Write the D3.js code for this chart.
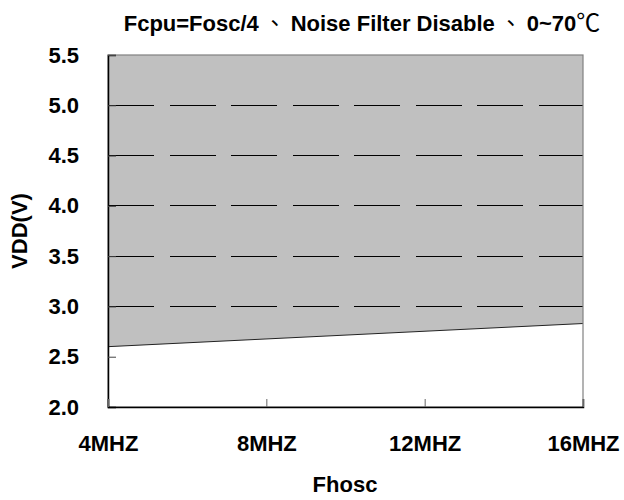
<!DOCTYPE html>
<html><head><meta charset="utf-8">
<script src="https://cdn.jsdelivr.net/npm/d3@7"></script>
<style>body{margin:0;background:#fff}</style>
</head><body>
<svg id="c" width="624" height="500"></svg>
<script>
const titleParts = ["Fcpu=Fosc/4", "、", "Noise Filter Disable", "、", "0~70", "℃"];
const xTicks = [4, 8, 12, 16];
const xLabels = ["4MHZ", "8MHZ", "12MHZ", "16MHZ"];
const yTicks = [2.0, 2.5, 3.0, 3.5, 4.0, 4.5, 5.0, 5.5];
const gridValues = [3.0, 3.5, 4.0, 4.5, 5.0];
const boundaryFreq = [4, 16];
const boundaryVdd = [2.6, 2.83];
const xName = "Fhosc";
const yName = "VDD(V)";

const svg = d3.select("#c");
const L = 108, R = 583, T = 55, B = 407;
const x = d3.scaleLinear().domain([4, 16]).range([L, R]);
const y = d3.scaleLinear().domain([2.0, 5.5]).range([B, T]);
const font = "'Liberation Sans', Arial, sans-serif";
const cjk = "'Noto Sans CJK TC', sans-serif";
const FS = 22;

const pts = boundaryFreq.map((f, i) => ({f, v: boundaryVdd[i]}));
const area = d3.area().x(d => x(d.f)).y0(y(5.5)).y1(d => y(d.v));
svg.append("path").datum(pts).attr("d", area).attr("fill", "#c0c0c0");

svg.append("defs").append("clipPath").attr("id", "pc")
  .append("rect").attr("x", L).attr("y", T).attr("width", R - L).attr("height", B - T);
svg.append("g").attr("clip-path", "url(#pc)").selectAll("line").data(gridValues).join("line")
  .attr("x1", L).attr("x2", R + 10).attr("y1", d => y(d)).attr("y2", d => y(d))
  .attr("stroke", "#000").attr("stroke-width", 1).attr("stroke-dasharray", "46,15.5")
  .attr("shape-rendering", "crispEdges");

svg.append("path").datum(pts).attr("d", d3.line().x(d => x(d.f)).y(d => y(d.v)))
  .attr("fill", "none").attr("stroke", "#222").attr("stroke-width", 1);

svg.append("rect").attr("x", L).attr("y", T).attr("width", R - L).attr("height", B - T)
  .attr("fill", "none").attr("stroke", "#808080").attr("stroke-width", 1.2);

const yAxis = d3.axisLeft(y).tickValues(yTicks).tickSize(-8).tickFormat(d3.format(".1f")).tickPadding(29);
const gy = svg.append("g").attr("transform", `translate(${L},0)`).call(yAxis);
gy.select(".domain").attr("stroke", "#000").attr("stroke-width", 1.5);
gy.selectAll(".tick line").attr("stroke", "#444");
gy.selectAll("text").attr("font-family", font).attr("font-weight", "bold").attr("font-size", FS).attr("fill", "#000");

const xAxis = d3.axisBottom(x).tickValues(xTicks).tickSize(-8).tickFormat((d, i) => xLabels[i]).tickPadding(28);
const gx = svg.append("g").attr("transform", `translate(0,${B})`).call(xAxis);
gx.select(".domain").attr("stroke", "#000").attr("stroke-width", 1.5);
gx.selectAll(".tick line").attr("stroke", "#666");
gx.selectAll("text").attr("font-family", font).attr("font-weight", "bold").attr("font-size", FS).attr("fill", "#000");

const t = svg.append("text").attr("x", 362).attr("y", 31).attr("text-anchor", "middle")
  .attr("font-family", font).attr("font-weight", "bold").attr("font-size", 22).attr("fill", "#000")
  .attr("xml:space", "preserve");
titleParts.forEach((p, i) => {
  const ts = t.append("tspan");
  if (p === "、") ts.attr("font-family", cjk).attr("font-weight", "normal").text("\u00a0" + p + "\u00a0");
  else if (p === "℃") ts.attr("font-family", cjk).attr("font-weight", "normal").attr("font-size", 24).text(p);
  else ts.text(p);
});

svg.append("text").attr("x", 345).attr("y", 492).attr("text-anchor", "middle")
  .attr("font-family", font).attr("font-weight", "bold").attr("font-size", FS).text(xName);
svg.append("text").attr("transform", `translate(27,${(T + B) / 2}) rotate(-90)`).attr("text-anchor", "middle")
  .attr("font-family", font).attr("font-weight", "bold").attr("font-size", FS).text(yName);
</script>
</body></html>
